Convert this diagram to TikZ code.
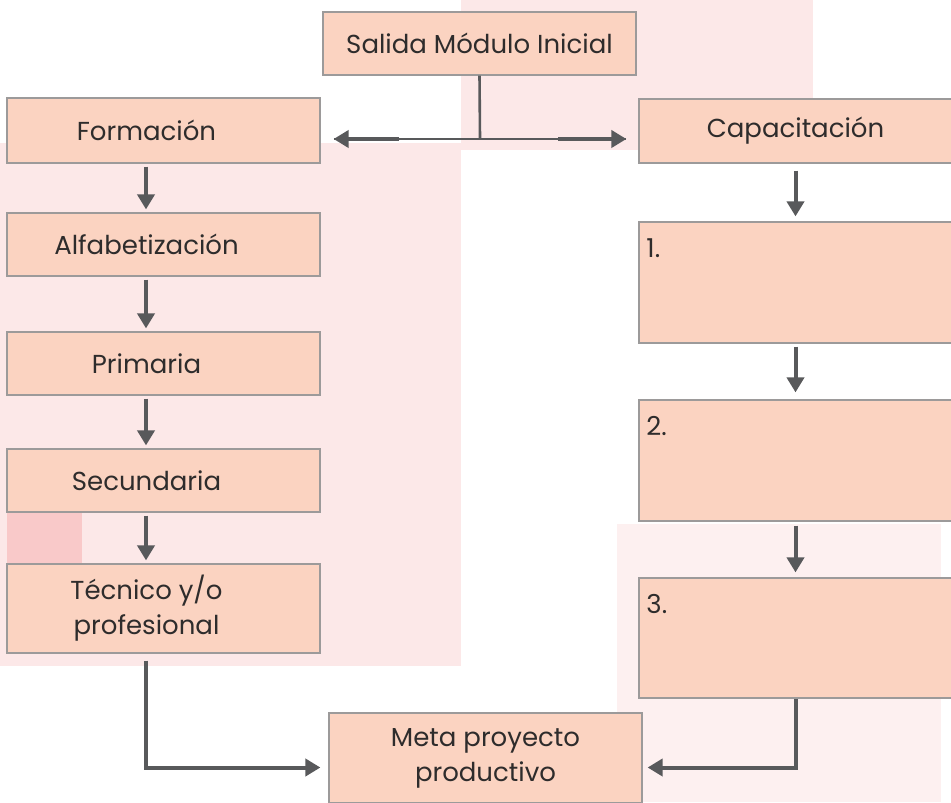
\documentclass[tikz,border=0pt]{standalone}
\usepackage{fontspec}
\setmainfont{Poppins}
\usepackage{tikz}
\usetikzlibrary{arrows.meta}
\definecolor{melon}{HTML}{FBD3C1}
\definecolor{borde}{HTML}{9C9A9A}
\definecolor{rosa}{HTML}{FCE8E8}
\definecolor{rosaclaro}{HTML}{FDF0F0}
\definecolor{rosafuerte}{HTML}{F9C9C9}
\definecolor{gris}{HTML}{58595B}
\definecolor{tinta}{HTML}{2E2C2C}
\tikzset{
	caja/.style={draw=borde, fill=melon, line width=0.6pt, inner sep=0pt, minimum width=156.5pt, minimum height=31.5pt, text=tinta, font=\fontsize{13}{17.5}\selectfont, align=center},
	rotulo/.style={text=tinta, font=\fontsize{13}{17.5}\selectfont, align=center, xshift=-8.5pt},
	flecha/.style={draw=gris, line width=2pt, -{Triangle[length=7.5pt,width=8.5pt]}, shorten <=1.5pt, shorten >=1.5pt},
	linea/.style={draw=gris, line width=1.3pt}
}
\begin{document}
\begin{tikzpicture}[x=0.5pt,y=-0.5pt]
		%%%%% START %%%%%
		\useasboundingbox (0,0) rectangle (951,802);
		\clip (0,0) rectangle (951,802);
		
		\fill[rosa] (0,143) rectangle (461,666);
		\fill[rosa] (461,0) rectangle (813,150);
		\fill[rosaclaro] (617,524) rectangle (941,802);
		\fill[rosafuerte] (7,513) rectangle (82,563);
		
		\coordinate (colL) at (146,0);
		\coordinate (union) at (480,139);
		\coordinate (bajo) at (0,767.5);
		
		\node[caja] (salida) at (479.5,43.5) {Salida Módulo Inicial};
		
		\node[caja, minimum height=32.5pt, label={[rotulo]center:Formación}] (formacion) at (163.5,130.5) {};
		\node[caja, label={[rotulo]center:Alfabetización}] (alfa) at (163.5,244.5) {};
		\node[caja, label={[rotulo]center:Primaria}] (primaria) at (163.5,363.5) {};
		\node[caja, label={[rotulo]center:Secundaria}] (secundaria) at (163.5,480.5) {};
		\node[caja, minimum height=44.5pt, label={[rotulo]center:Técnico y/o\\profesional}] (tecnico) at (163.5,608.5) {};
		
		\node[caja, minimum height=32pt] (capacitacion) at (795.5,131) {Capacitación};
		\node[caja, minimum height=60.5pt, label={[rotulo, anchor=north west, xshift=9pt, yshift=-5pt]north west:1.}] (uno) at (795.5,282.5) {};
		\node[caja, minimum height=60.5pt, label={[rotulo, anchor=north west, xshift=9pt, yshift=-5pt]north west:2.}] (dos) at (795.5,460.5) {};
		\node[caja, minimum height=60pt, label={[rotulo, anchor=north west, xshift=9pt, yshift=-5pt]north west:3.}] (tres) at (795.5,638) {};
		
		\node[caja, minimum height=45pt] (meta) at (485.5,758) {Meta proyecto\\productivo};
		
		% salida hacia los dos lados
		\draw[linea] (salida.south) -- (union);
		\draw[linea] (union) -- ([xshift=6.5pt]formacion.east |- union);
		\draw[linea] (union) -- ([xshift=-6pt]capacitacion.west |- union);
		\draw[flecha, shorten <=0pt, shorten >=6.5pt] ([xshift=39pt]formacion.east |- union) -- (formacion.east |- union);
		\draw[flecha, shorten <=0pt, shorten >=6pt] ([xshift=-40pt]capacitacion.west |- union) -- (capacitacion.west |- union);
		
		% formacion
		\draw[flecha] (formacion.south -| colL) -- (alfa.north -| colL);
		\draw[flecha] (alfa.south -| colL) -- (primaria.north -| colL);
		\draw[flecha] (primaria.south -| colL) -- (secundaria.north -| colL);
		\draw[flecha] (secundaria.south -| colL) -- (tecnico.north -| colL);
		
		% capacitacion
		\draw[flecha, shorten <=3.5pt, shorten >=2.5pt] (capacitacion.south) -- (uno.north);
		\draw[flecha, shorten <=1.5pt, shorten >=3.5pt] (uno.south) -- (dos.north);
		\draw[flecha, shorten <=2pt, shorten >=2.5pt] (dos.south) -- (tres.north);
		
		% meta
		\draw[flecha, shorten <=3.5pt, shorten >=4pt] (tecnico.south -| colL) |- (meta.west |- bajo);
		\draw[flecha, shorten <=0pt, shorten >=2.5pt] (tres.south) |- (meta.east |- bajo);
		%%%%% END %%%%%
	\end{tikzpicture}
\end{document}
